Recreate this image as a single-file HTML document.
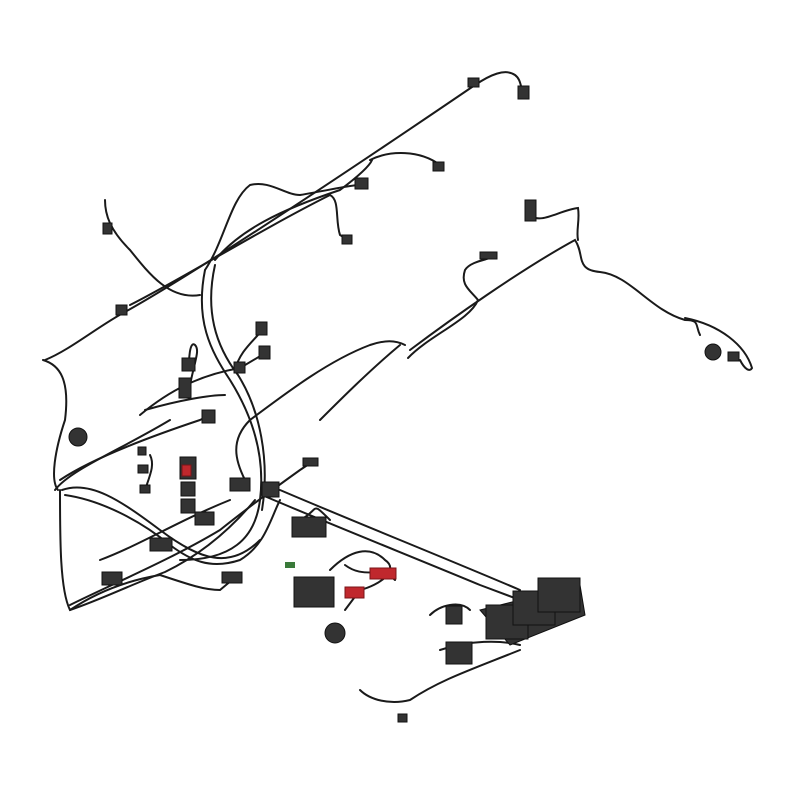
<!DOCTYPE html>
<html><head><meta charset="utf-8"><style>html,body{margin:0;padding:0;background:#fff}svg{display:block}</style></head>
<body>
<svg width="800" height="800" viewBox="0 0 800 800" xmlns="http://www.w3.org/2000/svg">
<g fill="none" stroke="#1a1a1a" stroke-width="2" stroke-linecap="round">
<path d="M45,360 C70,350 100,325 125,312 C200,270 350,170 475,85 C490,75 505,68 515,75 C522,80 520,90 525,95"/>
<path d="M43,360 C60,365 70,380 65,420 C55,450 50,480 58,490"/>
<path d="M105,200 C105,215 110,230 130,250 C150,275 170,300 200,295"/>
<path d="M205,270 C225,240 230,200 250,185 C270,180 285,195 300,195 C330,190 350,185 360,185"/>
<path d="M215,260 C240,230 280,210 340,190 C360,175 370,165 372,160"/>
<path d="M370,160 C390,150 420,150 440,165"/>
<path d="M330,195 C340,200 335,220 340,235 L348,240"/>
<path d="M130,305 C180,280 260,230 330,195"/>
<path d="M205,270 C195,320 210,350 230,380 C255,420 265,460 260,500 C255,540 230,560 180,560"/>
<path d="M215,265 C205,310 215,345 238,375 C260,410 270,460 262,510"/>
<path d="M140,415 C170,390 200,375 240,368 L262,355"/>
<path d="M145,410 C180,400 210,395 225,395 M190,385 C195,360 200,350 195,345 C190,340 188,360 190,370"/>
<path d="M235,370 C240,350 255,340 262,330"/>
<path d="M60,480 C90,460 140,440 200,420 C220,410 205,415 210,418"/>
<path d="M55,490 C70,470 120,450 170,420"/>
<path d="M245,480 C235,460 230,440 250,420 C290,390 330,360 370,345 C385,340 395,340 405,345"/>
<path d="M320,420 C340,400 370,370 400,345"/>
<path d="M408,358 C430,335 470,320 478,300 C470,290 460,285 465,270 C470,262 485,260 490,258"/>
<path d="M410,350 C450,320 520,270 575,240 C585,255 575,270 600,272 C630,275 650,310 685,320 C700,320 695,325 700,335"/>
<path d="M685,318 C720,325 745,345 752,368 C750,372 745,370 740,360"/>
<path d="M530,215 C540,225 560,210 578,208 C580,220 576,230 578,240"/>
<path d="M60,490 C60,540 60,590 70,610 C100,600 130,585 165,572 C200,555 230,530 255,500"/>
<path d="M65,495 C100,500 140,520 170,545 C190,560 210,570 240,560 C265,545 270,520 280,500"/>
<path d="M62,490 C90,480 120,500 160,530 C200,560 230,570 260,540"/>
<path d="M70,605 C110,585 170,560 220,530 C245,510 265,495 300,470 L312,462"/>
<path d="M100,560 C140,545 180,520 230,500"/>
<path d="M70,610 C100,590 130,580 160,575 C190,585 205,590 220,590 L232,580"/>
<path d="M150,455 C155,465 150,475 145,490"/>
<path d="M262,495 C320,520 420,560 480,585 L520,600"/>
<path d="M280,490 C350,520 450,560 520,590"/>
<path d="M300,520 C320,510 310,500 330,520"/>
<path d="M330,570 C350,550 370,545 385,560 C400,570 380,585 360,590 L345,610"/>
<path d="M345,565 C365,580 380,565 395,580"/>
<path d="M360,690 C370,700 390,705 410,700 C440,680 470,670 520,650"/>
<path d="M440,650 C470,640 500,640 520,645"/>
<path d="M430,615 C440,605 460,600 470,610"/>
</g>
<g fill="#333" stroke="#111" stroke-width="1">
<rect x="103" y="223" width="9" height="11"/>
<rect x="116" y="305" width="11" height="10"/>
<rect x="355" y="178" width="13" height="11"/>
<rect x="433" y="162" width="11" height="9"/>
<rect x="342" y="235" width="10" height="9"/>
<rect x="468" y="78" width="11" height="9"/>
<rect x="518" y="86" width="11" height="13"/>
<rect x="256" y="322" width="11" height="13"/>
<rect x="259" y="346" width="11" height="13"/>
<rect x="182" y="358" width="13" height="13"/>
<rect x="179" y="378" width="12" height="20"/>
<rect x="234" y="362" width="11" height="11"/>
<rect x="202" y="410" width="13" height="13"/>
<circle cx="78" cy="437" r="9"/>
<rect x="138" y="447" width="8" height="8"/>
<rect x="138" y="465" width="10" height="8"/>
<rect x="140" y="485" width="10" height="8"/>
<rect x="180" y="457" width="16" height="22"/>
<rect x="181" y="482" width="14" height="14"/>
<rect x="181" y="499" width="14" height="14"/>
<rect x="230" y="478" width="20" height="13"/>
<rect x="262" y="482" width="17" height="15"/>
<rect x="195" y="512" width="19" height="13"/>
<rect x="150" y="538" width="22" height="13"/>
<rect x="102" y="572" width="20" height="13"/>
<rect x="222" y="572" width="20" height="11"/>
<rect x="303" y="458" width="15" height="8"/>
<rect x="292" y="517" width="34" height="20"/>
<rect x="294" y="577" width="40" height="30"/>
<circle cx="335" cy="633" r="10"/>
<rect x="525" y="200" width="11" height="21"/>
<rect x="480" y="252" width="17" height="7"/>
<circle cx="713" cy="352" r="8"/>
<rect x="728" y="352" width="11" height="9"/>
<rect x="398" y="714" width="9" height="8"/>
<rect x="446" y="606" width="16" height="18"/>
<rect x="446" y="642" width="26" height="22"/>
<polygon points="480,610 580,585 585,615 510,645"/>
<rect x="486" y="605" width="42" height="34"/>
<rect x="513" y="591" width="42" height="34"/>
<rect x="538" y="578" width="42" height="34"/>
</g>
<g fill="#c0282d" stroke="#7a1418">
<rect x="370" y="568" width="26" height="11"/>
<rect x="345" y="587" width="19" height="11"/>
<rect x="182" y="465" width="9" height="11"/>
</g>
<rect x="285" y="562" width="10" height="6" fill="#3a7a3a"/>
</svg>
</body></html>
